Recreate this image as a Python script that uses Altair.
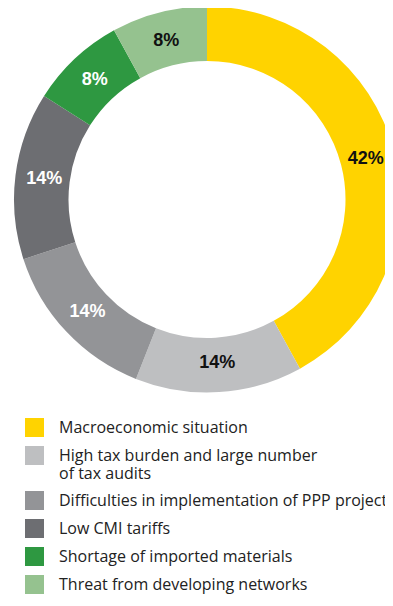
import altair as alt
import pandas as pd

categories = [
    "Macroeconomic situation",
    "High tax burden and large number of tax audits",
    "Difficulties in implementation of PPP projects",
    "Low CMI tariffs",
    "Shortage of imported materials",
    "Threat from developing networks",
]
values = [42, 14, 14, 14, 8, 8]
labels = ["42%", "14%", "14%", "14%", "8%", "8%"]
slice_colors = ["#FFD300", "#BEBFC1", "#939497", "#6D6E72", "#2E9841", "#95C28F"]
label_colors = ["#111111", "#111111", "#FFFFFF", "#FFFFFF", "#FFFFFF", "#111111"]

df = pd.DataFrame({
    "category": categories,
    "value": values,
    "label": labels,
    "order": list(range(len(categories))),
})

label_expr = (
    "datum.value == 'High tax burden and large number of tax audits' ? "
    "['High tax burden and large number', 'of tax audits'] : datum.value"
)

base = alt.Chart(df).encode(
    theta=alt.Theta("value:Q", stack=True),
    order=alt.Order("order:Q"),
)

arcs = base.mark_arc(outerRadius=193, innerRadius=138.5).encode(
    x=alt.value(199),
    y=alt.value(191.5),
    color=alt.Color(
        "category:N",
        scale=alt.Scale(domain=categories, range=slice_colors),
        sort=categories,
        legend=alt.Legend(
            title=None,
            orient="none",
            legendX=17,
            legendY=410,
            symbolType="square",
            symbolSize=361,
            symbolStrokeWidth=0,
            symbolOpacity=1,
            labelFont="Open Sans",
            labelFontSize=16,
            labelColor="#222222",
            labelOffset=15,
            labelLimit=0,
            rowPadding=9,
            padding=0,
            labelExpr=label_expr,
        ),
    ),
)

texts = base.mark_text(
    radius=164, font="Liberation Sans", fontSize=18, fontWeight="bold",
).encode(
    x=alt.value(199),
    y=alt.value(191.5),
    text="label:N",
    color=alt.Color(
        "category:N",
        scale=alt.Scale(domain=categories, range=label_colors),
        legend=None,
    ),
)

chart = (
    alt.layer(arcs, texts)
    .resolve_scale(color="independent")
    .properties(width=377, height=590, autosize=alt.AutoSizeParams(type="none"), padding=0)
    .configure_view(stroke=None)
)

chart.save("out.html", embed_options={"renderer": "svg", "actions": False})
